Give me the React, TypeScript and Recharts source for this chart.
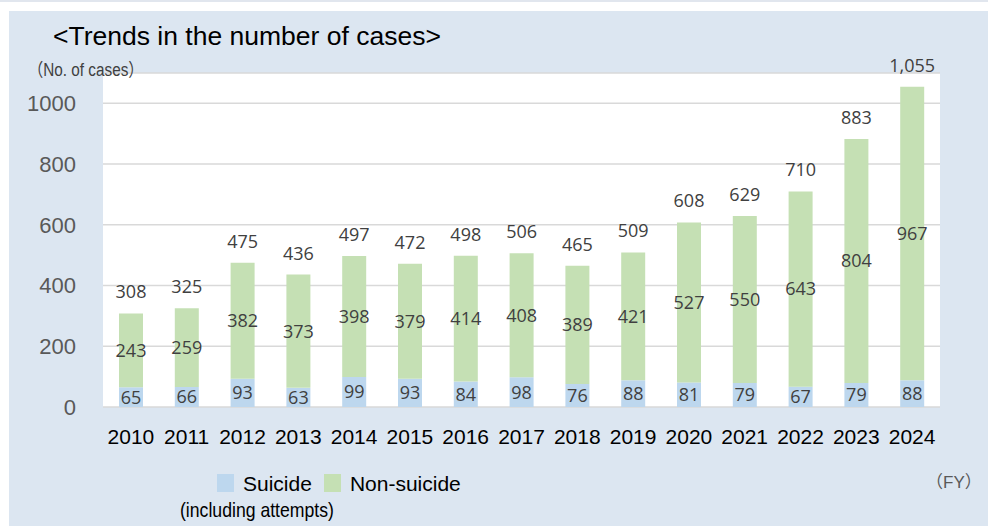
import { BarChart, Bar, XAxis, YAxis, CartesianGrid, LabelList, Legend } from 'recharts';

const YEARS = ['2010', '2011', '2012', '2013', '2014', '2015', '2016', '2017', '2018', '2019', '2020', '2021', '2022', '2023', '2024'];
const SUICIDE = [65, 66, 93, 63, 99, 93, 84, 98, 76, 88, 81, 79, 67, 79, 88];
const NON_SUICIDE = [243, 259, 382, 373, 398, 379, 414, 408, 389, 421, 527, 550, 643, 804, 967];
const Y_TICKS = [0, 200, 400, 600, 800, 1000];
const SERIES_NAMES = ['Suicide', 'Non-suicide'];

const COLORS = {
  suicide: '#bdd7ee',
  nonSuicide: '#c5e0b4',
  panel: '#dce6f1',
  grid: '#d9d9d9',
  label: '#404040',
  axis: '#595959',
};

const ARIAL = '"Liberation Sans", Arial, "Noto Sans CJK JP", sans-serif';
const LABEL_FONT = '"Open Sans", "Noto Sans", sans-serif';

const chartData = YEARS.map((year, i) => ({
  year,
  suicide: SUICIDE[i],
  nonSuicide: NON_SUICIDE[i],
  total: SUICIDE[i] + NON_SUICIDE[i],
}));

const fmt = (v: any) => Number(v).toLocaleString('en-US');

// narrow text, stands in for Arial Narrow
const narrow = (scale: number) => ({
  fontFamily: ARIAL,
  transform: `scaleX(${scale})`,
  transformOrigin: 'left top',
  whiteSpace: 'nowrap' as const,
});

function LegendContent({ payload }: any) {
  // keep the series order (stacked charts hand the payload over reversed)
  const items = SERIES_NAMES.map((name) => (payload || []).find((p: any) => p.value === name)).filter(Boolean);
  return (
    <div style={{ fontFamily: ARIAL, color: '#000' }}>
      <div style={{ display: 'flex', paddingLeft: 37, height: 21 }}>
        {items.map((entry: any, i: number) => (
          <div key={i} style={{ display: 'flex', alignItems: 'flex-start', marginRight: 12 }}>
            <span style={{ width: 17, height: 18, marginTop: 1, background: entry.color, display: 'inline-block' }} />
            <span style={{ fontSize: 21, lineHeight: '21px', marginLeft: 9 }}>{entry.value}</span>
          </div>
        ))}
      </div>
      <div style={{ ...narrow(0.84), fontSize: 21, lineHeight: '21px', marginTop: 5 }}>(including attempts)</div>
    </div>
  );
}

export default function App() {
  return (
    <div style={{ position: 'absolute', left: 0, top: 0, width: 988, height: 526, background: '#fff', overflow: 'hidden' }}>
      <div style={{ position: 'absolute', left: 0, top: 0, width: 988, height: 2, background: '#e1e6ee' }} />
      <div style={{ position: 'absolute', left: 9, top: 11, width: 979, height: 515, background: COLORS.panel }} />
      <div style={{ position: 'absolute', left: 0, top: 0 }}>
        <BarChart
          width={988}
          height={526}
          data={chartData}
          margin={{ top: 73, right: 48, bottom: 89, left: 0 }}
          barSize={24}
        >
          <CartesianGrid vertical={false} stroke={COLORS.grid} strokeWidth={1.5} fill="#ffffff" fillOpacity={1} />
          <XAxis
            dataKey="year"
            height={30}
            tickLine={false}
            axisLine={false}
            tickSize={0}
            tickMargin={22}
            interval={0}
            tick={{ fill: '#000', fontSize: 21, fontFamily: ARIAL }}
          />
          <YAxis
            width={103}
            domain={[0, 1100]}
            ticks={Y_TICKS}
            tickLine={false}
            axisLine={false}
            tickSize={0}
            tickMargin={27}
            tick={{ fill: COLORS.axis, fontSize: 22, fontFamily: ARIAL }}
          />
          <Legend
            verticalAlign="middle"
            align="center"
            layout="horizontal"
            wrapperStyle={{ left: 180, top: 473, width: 340 }}
            content={(props: any) => <LegendContent {...props} />}
          />
          <Bar dataKey="suicide" name={SERIES_NAMES[0]} stackId="a" fill={COLORS.suicide} isAnimationActive={false}>
            <LabelList dataKey="suicide" position="center" fill={COLORS.label} fontSize={18} fontFamily={LABEL_FONT} />
          </Bar>
          <Bar dataKey="nonSuicide" name={SERIES_NAMES[1]} stackId="a" fill={COLORS.nonSuicide} isAnimationActive={false}>
            <LabelList dataKey="nonSuicide" position="center" fill={COLORS.label} fontSize={18} fontFamily={LABEL_FONT} />
            <LabelList dataKey="total" position="top" offset={15} formatter={fmt} fill={COLORS.label} fontSize={18} fontFamily={LABEL_FONT} />
          </Bar>
        </BarChart>
      </div>
      <div style={{ position: 'absolute', left: 53, top: 23, fontFamily: ARIAL, fontSize: 26.5, lineHeight: '26px', color: '#000', whiteSpace: 'nowrap' }}>
        &lt;Trends in the number of cases&gt;
      </div>
      <div style={{ position: 'absolute', left: 28, top: 61, ...narrow(0.85), fontSize: 18, lineHeight: '18px', color: COLORS.label }}>
        （No. of cases）
      </div>
      <div style={{ position: 'absolute', left: 926, top: 474, fontFamily: ARIAL, fontSize: 17, lineHeight: '17px', color: COLORS.axis, whiteSpace: 'nowrap' }}>
        （FY）
      </div>
    </div>
  );
}
